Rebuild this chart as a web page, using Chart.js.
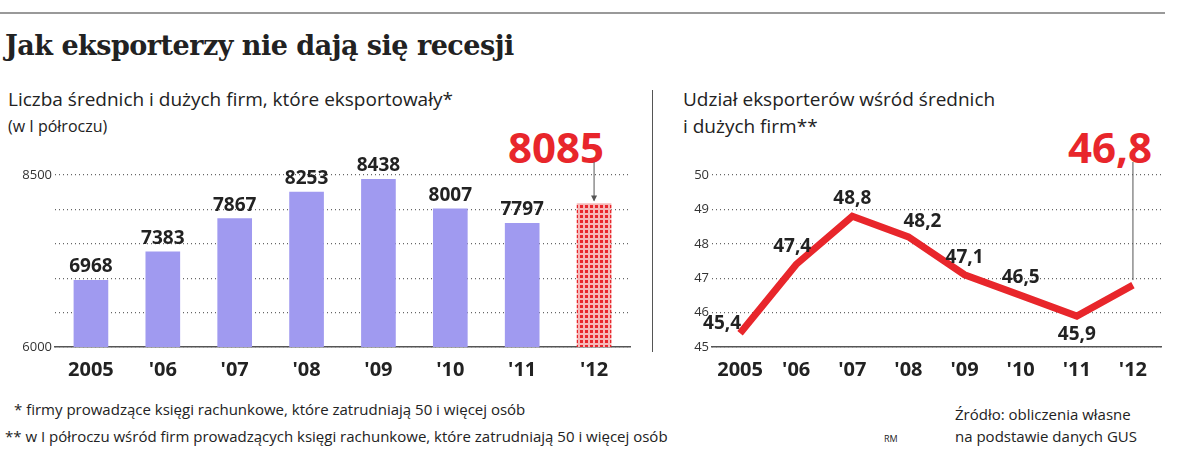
<!DOCTYPE html>
<html><head><meta charset="utf-8">
<script src="https://cdn.jsdelivr.net/npm/chart.js@4"></script>
<style>
body{margin:0;width:1200px;height:460px;background:#fff;position:relative;font-family:"Open Sans",sans-serif;overflow:hidden}
.t{position:absolute;white-space:nowrap;color:#222}
canvas{position:absolute}
</style></head><body>
<div style="position:absolute;left:0;top:12px;width:1165px;height:2px;background:#999"></div>
<div class="t" style="left:5px;top:30px;font:bold 27px 'DejaVu Serif',serif;letter-spacing:-0.5px">Jak eksporterzy nie dają się recesji</div>
<div class="t" style="left:8px;top:86px;font-size:19px">Liczba średnich i dużych firm, które eksportowały*</div>
<div class="t" style="left:8px;top:115px;font-size:16px">(w I półroczu)</div>
<div class="t" style="left:683px;top:86px;font-size:19px">Udział eksporterów wśród średnich</div>
<div class="t" style="left:683px;top:113px;font-size:19px">i dużych firm**</div>
<div class="t" style="left:508px;top:118px;font:bold 42px 'Open Sans',sans-serif;color:#e8262b">8085</div>
<div class="t" style="left:1068px;top:118px;font:bold 42px 'Open Sans',sans-serif;color:#e8262b">46,8</div>
<div style="position:absolute;left:652px;top:90px;width:1px;height:262px;background:#555"></div>
<canvas id="c1" style="left:0;top:140px;width:640px;height:250px"></canvas>
<canvas id="c2" style="left:660px;top:140px;width:540px;height:250px"></canvas>
<div class="t" style="left:14px;top:399px;font-size:15px">* firmy prowadzące księgi rachunkowe, które zatrudniają 50 i więcej osób</div>
<div class="t" style="left:5px;top:426px;font-size:15px">** w I półroczu wśród firm prowadzących księgi rachunkowe, które zatrudniają 50 i więcej osób</div>
<div class="t" style="left:884px;top:432px;font-size:9px">RM</div>
<div class="t" style="left:955px;top:403px;font-size:15px;line-height:22px">Źródło: obliczenia własne<br>na podstawie danych GUS</div>
<script>
const categories=["2005","'06","'07","'08","'09","'10","'11","'12"];
const firms=[6968,7383,7867,8253,8438,8007,7797,8085];
const share=[45.4,47.4,48.8,48.2,47.1,46.5,45.9,46.8];
const firmLabels=["6968","7383","7867","8253","8438","8007","7797"];
const shareLabels=["45,4","47,4","48,8","48,2","47,1","46,5","45,9"];
const leftTicks=[6000,8500];

function mkPattern(){const p=document.createElement('canvas');p.width=5;p.height=5;const g=p.getContext('2d');g.fillStyle='#f6b8b8';g.fillRect(0,0,5,5);g.fillStyle='#e8262b';g.fillRect(0,0,3,3);return g.createPattern(p,'repeat');}
const pat=mkPattern();
const tickFont={family:"Open Sans",size:13};
const xFont={family:"Open Sans",size:20,weight:'bold'};

new Chart(document.getElementById('c1'),{type:'bar',
data:{labels:categories,datasets:[{data:firms,backgroundColor:firms.map((v,i)=>i===7?pat:'#a09af0'),barThickness:34}]},
options:{responsive:false,animation:false,events:[],layout:{padding:{top:35,right:10}},
plugins:{legend:{display:false},tooltip:{enabled:false}},
scales:{y:{min:6000,max:8500,afterFit:s=>{s.width=55},ticks:{stepSize:250,color:'#333',font:tickFont,callback:v=>leftTicks.includes(v)?v:''},grid:{color:'#666',lineWidth:1.3,drawTicks:false},border:{display:false,dash:[1,3]}},
x:{afterFit:s=>{s.height=43},ticks:{color:'#222',font:xFont},grid:{display:false},border:{color:'#555',width:1.5}}}},
plugins:[{afterDatasetsDraw(c){const g=c.ctx,m=c.getDatasetMeta(0);g.save();g.fillStyle='#222';g.font="bold 19px 'Open Sans'";g.textAlign='center';
firmLabels.forEach((t,i)=>{const b=m.data[i];g.fillText(t,b.x,b.y-8);});
const b=m.data[7];g.strokeStyle='#555';g.lineWidth=1;g.beginPath();g.moveTo(b.x,22);g.lineTo(b.x,b.y-3);g.stroke();
g.fillStyle='#555';g.beginPath();g.moveTo(b.x-3,b.y-8);g.lineTo(b.x+3,b.y-8);g.lineTo(b.x,b.y-2);g.fill();g.restore();}}]});

const offs=[[-18,-4],[-4,-12],[0,-12],[14,-10],[0,-12],[0,-12],[0,24]];
new Chart(document.getElementById('c2'),{type:'line',
data:{labels:categories,datasets:[{data:share,borderColor:'#e8262b',borderWidth:7,pointRadius:0,tension:0}]},
options:{responsive:false,animation:false,events:[],layout:{padding:{top:35,right:39}},
plugins:{legend:{display:false},tooltip:{enabled:false}},
scales:{y:{min:45,max:50,afterFit:s=>{s.width=52},ticks:{stepSize:1,color:'#333',font:tickFont},grid:{color:'#666',lineWidth:1.3,drawTicks:false},border:{display:false,dash:[1,3]}},
x:{offset:true,afterFit:s=>{s.height=43},ticks:{color:'#222',font:xFont},grid:{display:false,offset:true},border:{color:'#555',width:1.5}}}},
plugins:[{afterDatasetsDraw(c){const g=c.ctx,m=c.getDatasetMeta(0);g.save();g.fillStyle='#222';g.font="bold 19px 'Open Sans'";g.textAlign='center';
shareLabels.forEach((t,i)=>{const p=m.data[i];g.fillText(t,p.x+offs[i][0],p.y+offs[i][1]);});
const p=m.data[7];g.strokeStyle='#555';g.lineWidth=1;g.beginPath();g.moveTo(p.x,22);g.lineTo(p.x,p.y-5);g.stroke();g.restore();}}]});
</script>
</body></html>
